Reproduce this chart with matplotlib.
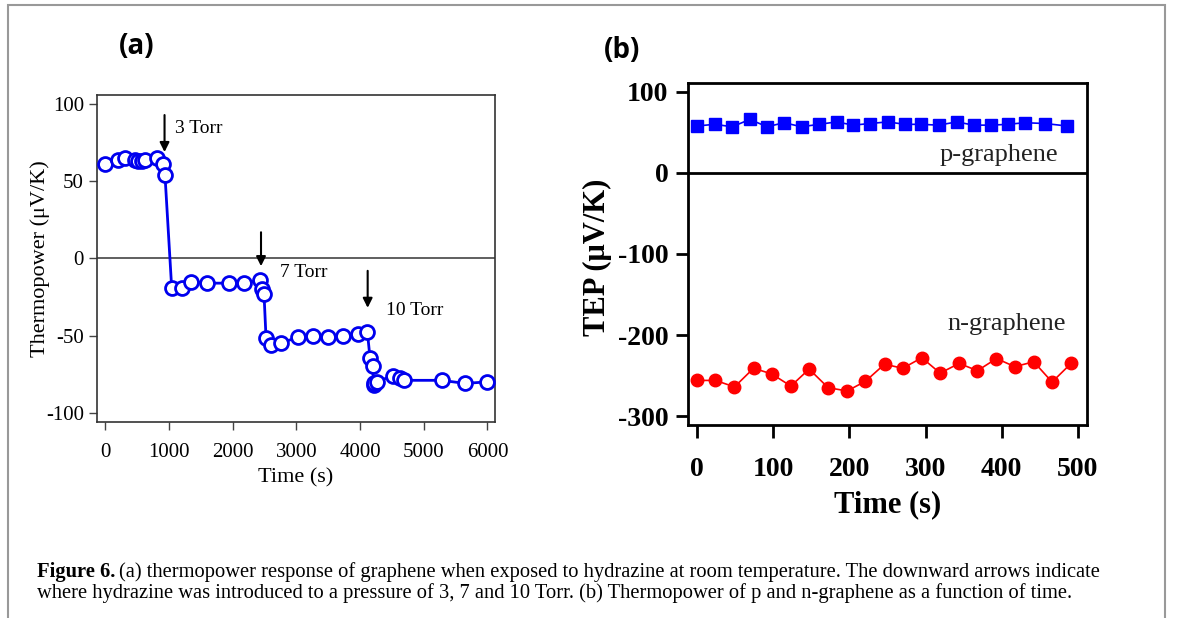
import numpy as np
import matplotlib
matplotlib.use('Agg')
import matplotlib.pyplot as plt
from matplotlib.patches import Rectangle

# panel (a): thermopower vs time under hydrazine exposure
t_a = [0, 204, 309, 466, 518, 571, 623, 817, 901, 937,
       1042, 1199, 1346, 1592, 1942, 2183, 2429, 2455, 2492,
       2524, 2597, 2754, 3021, 3257, 3503, 3738, 3963, 4115,
       4157, 4199, 4212, 4225, 4262, 4513, 4628, 4691, 5283, 5649, 6000]
s_a = [61.5, 64, 65, 64, 63, 63, 64, 65, 61.5, 54,
       -19, -19, -15, -16, -16, -16, -14, -20, -23,
       -51.5, -56, -55, -51, -50, -51, -50, -49, -47.6,
       -64.5, -69.5, -82, -81, -80, -76, -77.5, -79, -79, -81, -80]
arrows_x = [930, 2445, 4120]
arrows_y = [(93, 69), (17, -5), (-8, -32)]
arrow_text = ['3 Torr', '7 Torr', '10 Torr']
arrow_text_pos = [(1090, 84), (2740, -9), (4405, -34)]

# panel (b): p- and n-graphene TEP vs time
t_p = [0, 23, 46, 69, 92, 114, 137, 160, 183, 205, 227, 250, 273, 294,
       317, 341, 363, 386, 408, 430, 457, 485]
s_p = [58, 60, 57, 66, 57, 62, 57, 60, 63, 59, 61, 63, 60, 60,
       59, 63, 59, 59, 60, 62, 61, 58]
t_n = [0, 24, 49, 74, 98, 123, 147, 172, 197, 221, 246, 270, 295, 319,
       344, 368, 393, 417, 442, 466, 491]
s_n = [-256, -256, -264, -241, -248, -263, -242, -265, -269, -257, -236,
       -241, -228, -247, -235, -244, -229, -239, -233, -258, -235]

serif = ['Liberation Serif', 'DejaVu Serif']
plt.rcParams['font.family'] = serif
plt.rcParams['axes.unicode_minus'] = False

fig = plt.figure(figsize=(11.82, 6.18), dpi=100)

# outer frame of the figure box
fig.patches.append(Rectangle((8 / 1182, -0.1), (1165 - 8) / 1182, 1.1 - 5 / 618,
                             transform=fig.transFigure, fill=False,
                             edgecolor='#999999', lw=1.5))

# ---- (a)
ax1 = fig.add_axes([0.0821, 0.3172, 0.3367, 0.5291])
ax1.plot(t_a, s_a, '-o', color='#0000ee', lw=2, ms=10, mfc='white',
         mec='#0000ee', mew=2, zorder=3)
ax1.axhline(0, color='#444444', lw=1.2, zorder=1)
for x, (y0, y1) in zip(arrows_x, arrows_y):
    ax1.annotate('', xy=(x, y1), xytext=(x, y0),
                 arrowprops=dict(arrowstyle='-|>', color='black', lw=1.5,
                                 mutation_scale=14, shrinkA=0, shrinkB=0))
for txt, (x, y) in zip(arrow_text, arrow_text_pos):
    ax1.text(x, y, txt, fontsize=14, va='center', ha='left')
ax1.set_xlim(-130, 6120)
ax1.set_ylim(-106, 106)
ax1.set_xticks([0, 1000, 2000, 3000, 4000, 5000, 6000])
ax1.set_yticks([-100, -50, 0, 50, 100])
ax1.tick_params(labelsize=15, length=6, width=1, direction='out', color='#444444')
ax1.tick_params(axis='x', pad=9)
for s in ax1.spines.values():
    s.set_linewidth(1.2)
    s.set_color('#333333')
ax1.set_xlabel('Time (s)', fontsize=16)
ax1.set_ylabel('Thermopower (μV/K)', fontsize=16)
ax1.xaxis.set_label_coords(0.5, -0.14)
ax1.yaxis.set_label_coords(-0.118, 0.5)

# ---- (b)
ax2 = fig.add_axes([0.5821, 0.3123, 0.3376, 0.5534])
ax2.plot(t_p, s_p, '-s', color='#0000ff', lw=1.2, ms=9, zorder=3)
ax2.plot(t_n, s_n, '-o', color='#ff0000', lw=1.2, ms=9, zorder=3)
ax2.axhline(0, color='black', lw=2, zorder=1)
ax2.text(396, 22, 'p-graphene', fontsize=19, ha='center', va='center', color='#222222')
ax2.text(406, -186, 'n-graphene', fontsize=19, ha='center', va='center', color='#222222')
ax2.set_xlim(-12, 512)
ax2.set_ylim(-311, 111)
ax2.set_xticks([0, 100, 200, 300, 400, 500])
ax2.set_yticks([-300, -200, -100, 0, 100])
ax2.tick_params(labelsize=20, length=9, width=2, direction='out', pad=5)
ax2.tick_params(axis='x', pad=14)
for lab in ax2.get_xticklabels() + ax2.get_yticklabels():
    lab.set_fontweight('bold')
for s in ax2.spines.values():
    s.set_linewidth(2)
ax2.set_xlabel('Time (s)', fontsize=22, fontweight='bold')
ax2.set_ylabel('TEP (μV/K)', fontsize=22, fontweight='bold')
ax2.xaxis.set_label_coords(0.5, -0.19)
ax2.yaxis.set_label_coords(-0.19, 0.49)

# panel letters
sans = ['Open Sans', 'DejaVu Sans']
fig.text(137 / 1182, 1 - 46 / 618, '(a)', fontsize=20, fontweight='bold',
         family=sans, ha='center', va='center')
fig.text(622 / 1182, 1 - 50 / 618, '(b)', fontsize=20, fontweight='bold',
         family=sans, ha='center', va='center')

# caption: bold lead-in followed by regular text
cap_size = 14.8
lead = fig.text(37 / 1182, 1 - 572 / 618, 'Figure 6.', fontsize=cap_size,
                fontweight='bold', va='center', ha='left')
renderer = fig.canvas.get_renderer()
bb = lead.get_window_extent(renderer)
fig.text((bb.x1 + 4) / 1182, 1 - 572 / 618,
         '(a) thermopower response of graphene when exposed to hydrazine at room temperature. '
         'The downward arrows indicate',
         fontsize=cap_size, va='center', ha='left')
fig.text(37 / 1182, 1 - 593 / 618,
         'where hydrazine was introduced to a pressure of 3, 7 and 10 Torr. (b) Thermopower of p and '
         'n-graphene as a function of time.',
         fontsize=cap_size, va='center', ha='left')

fig.savefig('out.png', dpi=100)
